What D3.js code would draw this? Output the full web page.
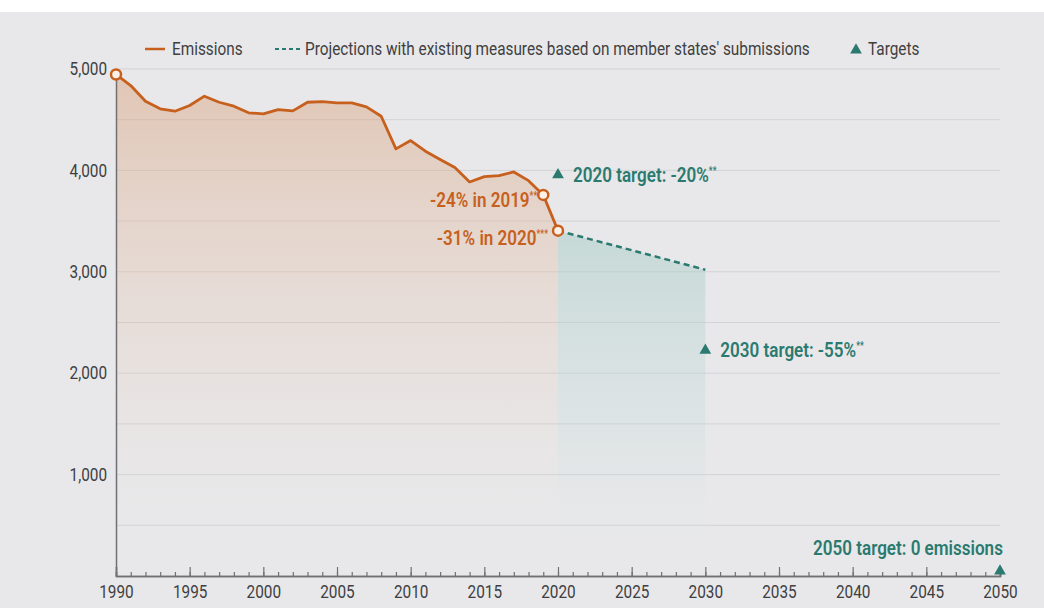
<!DOCTYPE html>
<html>
<head>
<meta charset="utf-8">
<script src="https://cdn.jsdelivr.net/npm/d3@7"></script>
<style>
  body { margin: 0; background: #fff; }
  svg text { font-family: "Roboto", "Noto Sans", sans-serif; }
</style>
</head>
<body>
<div id="container"></div>
<script>
let w = 1044;
let h = 608;

// emissions, EU, Mt CO2e
let years = [1990, 1991, 1992, 1993, 1994, 1995, 1996, 1997, 1998, 1999,
             2000, 2001, 2002, 2003, 2004, 2005, 2006, 2007, 2008, 2009,
             2010, 2011, 2012, 2013, 2014, 2015, 2016, 2017, 2018, 2019, 2020];
let emissions = [4946, 4837, 4682, 4607, 4584, 4640, 4732, 4672, 4633, 4568,
                 4558, 4600, 4587, 4672, 4679, 4666, 4666, 4627, 4534, 4212,
                 4294, 4189, 4107, 4028, 3886, 3939, 3949, 3985, 3899, 3758, 3406];

let projYears = [2020, 2030];
let projValues = [3406, 3020];

let targetYears = [2020, 2030, 2050];
let targetValues = [3957, 2226, 0];
let targetLabels = ["2020 target: -20%", "2030 target: -55%", "2050 target: 0 emissions"];
let targetStars = ["**", "**", ""];

let yTicks = [1000, 2000, 3000, 4000, 5000];
let gridValues = [500, 1000, 1500, 2000, 2500, 3000, 3500, 4000, 4500, 5000];
let xMajor = [1990, 1995, 2000, 2005, 2010, 2015, 2020, 2025, 2030, 2035, 2040, 2045, 2050];

let legendLabels = ["Emissions", "Projections with existing measures based on member states' submissions", "Targets"];

let orange = "#c7601d";
let teal = "#2b7a6f";
let textColor = "#3f3f41";

let viz = d3.select("#container")
  .append("svg")
    .attr("width", w)
    .attr("height", h)
;

viz.append("rect")
    .attr("x", 0)
    .attr("y", 12)
    .attr("width", w)
    .attr("height", h - 12)
    .attr("fill", "#e8e8ea")
;

// the original uses a condensed face; squeeze the text to match
let probe = viz.append("text")
    .style("font-size", "18px")
    .text(legendLabels[1]);
let k = 505 / probe.node().getComputedTextLength();
probe.remove();

// text in a squeezed group, anchored at (px, py)
function label(px, py, txt, opts) {
  let g = viz.append("g")
      .attr("transform", "translate(" + px + "," + py + ") scale(" + k + ",1)");
  let t = g.append("text")
      .attr("text-anchor", opts.anchor || "start")
      .attr("fill", opts.color || textColor)
      .style("font-size", (opts.size || 18) + "px")
      .style("font-weight", opts.weight || "normal")
      .text(txt);
  if (opts.stars) {
    t.append("tspan")
        .attr("dy", -8)
        .style("font-size", "10px")
        .text(opts.stars);
  }
  return t;
}

let x = d3.scaleLinear().domain([1990, 2050]).range([116, 1000]);
let y = d3.scaleLinear().domain([0, 5000]).range([576, 69]);

let defs = viz.append("defs");
let gOr = defs.append("linearGradient")
    .attr("id", "gradOrange")
    .attr("x1", 0).attr("x2", 0)
    .attr("gradientUnits", "userSpaceOnUse")
    .attr("y1", y(5000)).attr("y2", y(0))
;
gOr.append("stop").attr("offset", 0).attr("stop-color", "#d9a27e").attr("stop-opacity", 0.5);
gOr.append("stop").attr("offset", 0.55).attr("stop-color", "#e2b89c").attr("stop-opacity", 0.18);
gOr.append("stop").attr("offset", 1).attr("stop-color", "#e8e8ea").attr("stop-opacity", 0);

let gTe = defs.append("linearGradient")
    .attr("id", "gradTeal")
    .attr("x1", 0).attr("x2", 0)
    .attr("gradientUnits", "userSpaceOnUse")
    .attr("y1", y(3400)).attr("y2", y(0))
;
gTe.append("stop").attr("offset", 0).attr("stop-color", "#a9cdc8").attr("stop-opacity", 0.55);
gTe.append("stop").attr("offset", 0.6).attr("stop-color", "#c3d9d6").attr("stop-opacity", 0.25);
gTe.append("stop").attr("offset", 1).attr("stop-color", "#e8e8ea").attr("stop-opacity", 0);

// gridlines
viz.selectAll(".grid")
  .data(gridValues)
  .enter()
  .append("line")
    .attr("class", "grid")
    .attr("x1", x(1990))
    .attr("x2", x(2050))
    .attr("y1", d => y(d))
    .attr("y2", d => y(d))
    .style("stroke", "#d3d3d5")
    .style("stroke-width", 1)
;

// areas
let emData = years.map((d, i) => ({year: d, value: emissions[i]}));
let projData = projYears.map((d, i) => ({year: d, value: projValues[i]}));

let area = d3.area()
    .x(d => x(d.year))
    .y0(y(0))
    .y1(d => y(d.value))
;

viz.append("path")
    .datum(emData)
    .attr("d", area)
    .attr("fill", "url(#gradOrange)")
;

viz.append("path")
    .datum(projData)
    .attr("d", area)
    .attr("fill", "url(#gradTeal)")
;

// axes
let axColor = "#707072";

let xAxisMinor = d3.axisBottom(x)
    .tickValues(d3.range(1990, 2051))
    .tickSize(-4)
    .tickFormat("")
;
let xAxisMajor = d3.axisBottom(x)
    .tickValues(xMajor)
    .tickSize(-9)
    .tickPadding(9)
    .tickFormat(d3.format("d"))
;

let gxMinor = viz.append("g")
    .attr("transform", "translate(0," + y(0) + ")")
    .call(xAxisMinor);
let gxMajor = viz.append("g")
    .attr("transform", "translate(0," + y(0) + ")")
    .call(xAxisMajor);

[gxMinor, gxMajor].forEach(g => {
  g.select(".domain").style("stroke", axColor).style("stroke-width", 1.5);
  g.selectAll(".tick line").style("stroke", axColor).style("stroke-width", 1.2);
});
gxMajor.selectAll(".tick text")
    .attr("fill", textColor)
    .attr("transform", "scale(" + k + ",1)")
    .style("font-size", "18px")
;

let yAxis = d3.axisLeft(y)
    .tickValues(yTicks)
    .tickSize(0)
    .tickPadding(9)
    .tickFormat(d3.format(","))
;
let gy = viz.append("g")
    .attr("transform", "translate(" + x(1990) + ",0)")
    .call(yAxis);
gy.select(".domain").style("stroke", axColor).style("stroke-width", 1.5);
gy.selectAll(".tick text")
    .attr("fill", textColor)
    .attr("x", -9 / k)
    .attr("transform", "scale(" + k + ",1)")
    .style("font-size", "18px")
;

// projection line
let line = d3.line()
    .x(d => x(d.year))
    .y(d => y(d.value))
;

viz.append("path")
    .datum(projData)
    .attr("d", line)
    .attr("fill", "none")
    .style("stroke", teal)
    .style("stroke-width", 2.5)
    .style("stroke-dasharray", "6,4")
;

// emissions line
viz.append("path")
    .datum(emData)
    .attr("d", line)
    .attr("fill", "none")
    .style("stroke", orange)
    .style("stroke-width", 2.8)
    .style("stroke-linejoin", "round")
;

let marked = emData.filter(d => d.year == 1990 || d.year == 2019 || d.year == 2020);
viz.selectAll(".mark")
  .data(marked)
  .enter()
  .append("circle")
    .attr("class", "mark")
    .attr("cx", d => x(d.year))
    .attr("cy", d => y(d.value))
    .attr("r", 5)
    .attr("fill", "#fbf1e8")
    .style("stroke", orange)
    .style("stroke-width", 2.5)
;

// emission labels
let i19 = years.indexOf(2019);
let i20 = years.indexOf(2020);
label(x(2019) - 6, y(emissions[i19]) + 12, "-24% in 2019",
      {anchor: "end", color: orange, size: 20, weight: 600, stars: "**"});
label(x(2020) - 10, y(emissions[i20]) + 14, "-31% in 2020",
      {anchor: "end", color: orange, size: 20, weight: 600, stars: "***"});

// targets
let triangle = d3.symbol().type(d3.symbolTriangle).size(60);

targetYears.forEach((yr, i) => {
  let tx = x(yr);
  let ty = y(targetValues[i]);
  if (targetValues[i] == 0) ty = ty - 5;
  viz.append("path")
      .attr("d", triangle)
      .attr("transform", "translate(" + tx + "," + ty + ")")
      .attr("fill", teal)
  ;
  if (targetValues[i] == 0) {
    label(tx - 92, ty - 16, targetLabels[i], {anchor: "middle", color: teal, size: 20, weight: 600});
  } else {
    label(tx + 15, ty + 7, targetLabels[i], {color: teal, size: 20, weight: 600, stars: targetStars[i]});
  }
});

// legend
let ly = 49;

viz.append("line")
    .attr("x1", 145).attr("x2", 165)
    .attr("y1", ly).attr("y2", ly)
    .style("stroke", orange)
    .style("stroke-width", 2.5)
;
label(172, ly + 6, legendLabels[0], {size: 18});

viz.append("line")
    .attr("x1", 275).attr("x2", 300)
    .attr("y1", ly).attr("y2", ly)
    .style("stroke", teal)
    .style("stroke-width", 2)
    .style("stroke-dasharray", "4,3")
;
label(305, ly + 6, legendLabels[1], {size: 18});

viz.append("path")
    .attr("d", triangle)
    .attr("transform", "translate(856," + (ly + 1) + ")")
    .attr("fill", teal)
;
label(868, ly + 6, legendLabels[2], {size: 18});
</script>
</body>
</html>
